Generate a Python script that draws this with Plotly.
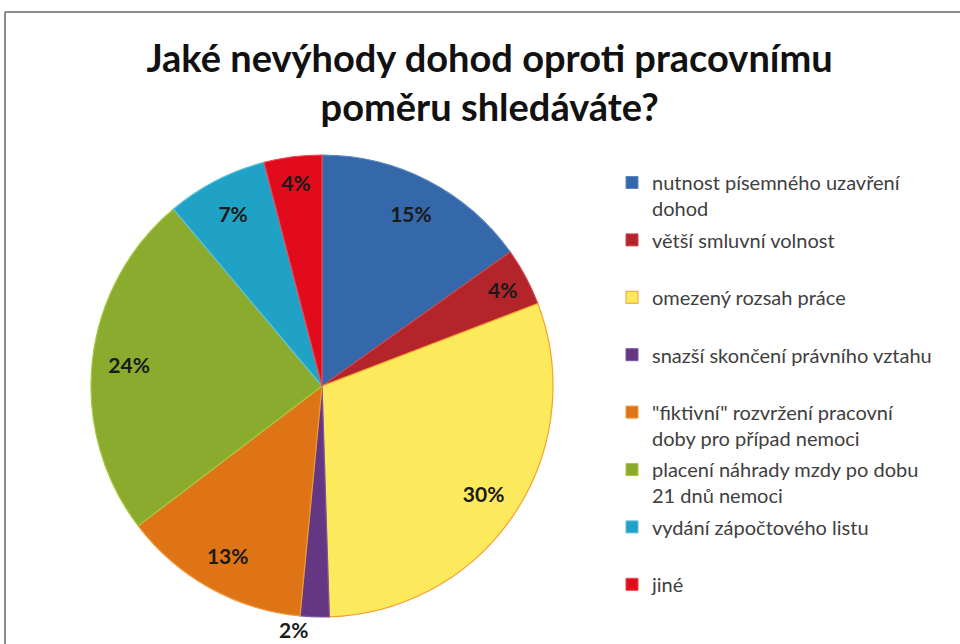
import plotly.graph_objects as go

categories = [
    "nutnost písemného uzavření<br>dohod",
    "větší smluvní volnost",
    "omezený rozsah práce",
    "snazší skončení právního vztahu",
    "\"fiktivní\" rozvržení pracovní<br>doby pro případ nemoci",
    "placení náhrady mzdy po dobu<br>21 dnů nemoci",
    "vydání zápočtového listu",
    "jiné",
]
values = [15, 4, 30, 2, 13, 24, 7, 4]
colors = ["#3468ab", "#b4252b", "#fde95c", "#633781", "#df7417", "#8aab2e", "#1fa2c6", "#e10b1b"]
edge_colors = ["#5a86c0", "#c8474a", "#f5a02a", "#7d55a0", "#f19a3a", "#a8c83e", "#5cc0dc", "#ef4450"]
text_positions = ["inside", "inside", "inside", "outside", "inside", "inside", "inside", "inside"]
title_text = "Jaké nevýhody dohod oproti pracovnímu<br>poměru shledáváte?"

W, H = 960, 644
cx, cy, r = 322, 386, 231

fig = go.Figure()

dom_x = [(cx - r) / W, (cx + r) / W]
dom_y = [(H - cy - r) / H, (H - cy + r) / H]

# main pie
fig.add_trace(go.Pie(
    values=values, labels=[c.replace("<br>", " ") for c in categories],
    sort=False, direction="clockwise", rotation=0,
    marker=dict(colors=colors, line=dict(color=edge_colors, width=1.2)),
    textinfo="none", showlegend=False, hoverinfo="skip",
    domain=dict(x=dom_x, y=dom_y),
))

# transparent ring carrying the percentage labels
fig.add_trace(go.Pie(
    values=values, labels=[c.replace("<br>", " ") for c in categories],
    sort=False, direction="clockwise", rotation=0, hole=0.68,
    marker=dict(colors=["rgba(0,0,0,0)"] * len(values), line=dict(width=0)),
    texttemplate="%{percent:.0%}", textposition=text_positions,
    insidetextorientation="horizontal",
    textfont=dict(family="Lato", size=21, color="#1a1a1a", weight="bold"),
    showlegend=False, hoverinfo="skip",
    domain=dict(x=dom_x, y=dom_y),
))

# legend entries
for i, (lab, col, ec) in enumerate(zip(categories, colors, edge_colors)):
    txt = lab if "<br>" in lab else lab + "<br> "
    fig.add_trace(go.Scatter(
        x=[None], y=[None], mode="markers", name=txt,
        marker=dict(symbol="square", size=12, color=col, line=dict(color=ec, width=1)),
        legendgroup=f"g{i}", showlegend=True,
    ))

frame_y = 1 - 12 / H
frame_x = 5 / W

fig.update_layout(
    width=W, height=H,
    margin=dict(l=0, r=0, t=0, b=0, autoexpand=False),
    paper_bgcolor="white", plot_bgcolor="rgba(0,0,0,0)",
    font=dict(family="Lato", color="#404040"),
    title=dict(text=title_text, x=0.51, xanchor="center", y=1 - 72 / H, yanchor="top",
               font=dict(family="Lato", size=38, color="#111111", weight="bold")),
    xaxis=dict(visible=False), yaxis=dict(visible=False),
    uniformtext=dict(minsize=21, mode="show"),
    legend=dict(x=612 / W, xanchor="left", y=1 - 163 / H, yanchor="top",
                font=dict(family="Lato", size=20, color="#404040"),
                valign="top", tracegroupgap=2.4, bgcolor="rgba(0,0,0,0)"),
    shapes=[
        dict(type="line", xref="paper", yref="paper", x0=frame_x, x1=1.05, y0=frame_y, y1=frame_y,
             line=dict(color="#8c8c8c", width=2), layer="above"),
        dict(type="line", xref="paper", yref="paper", x0=frame_x, x1=frame_x, y0=-0.05, y1=frame_y,
             line=dict(color="#8c8c8c", width=2), layer="above"),
    ],
)

fig.write_html("out.html")
